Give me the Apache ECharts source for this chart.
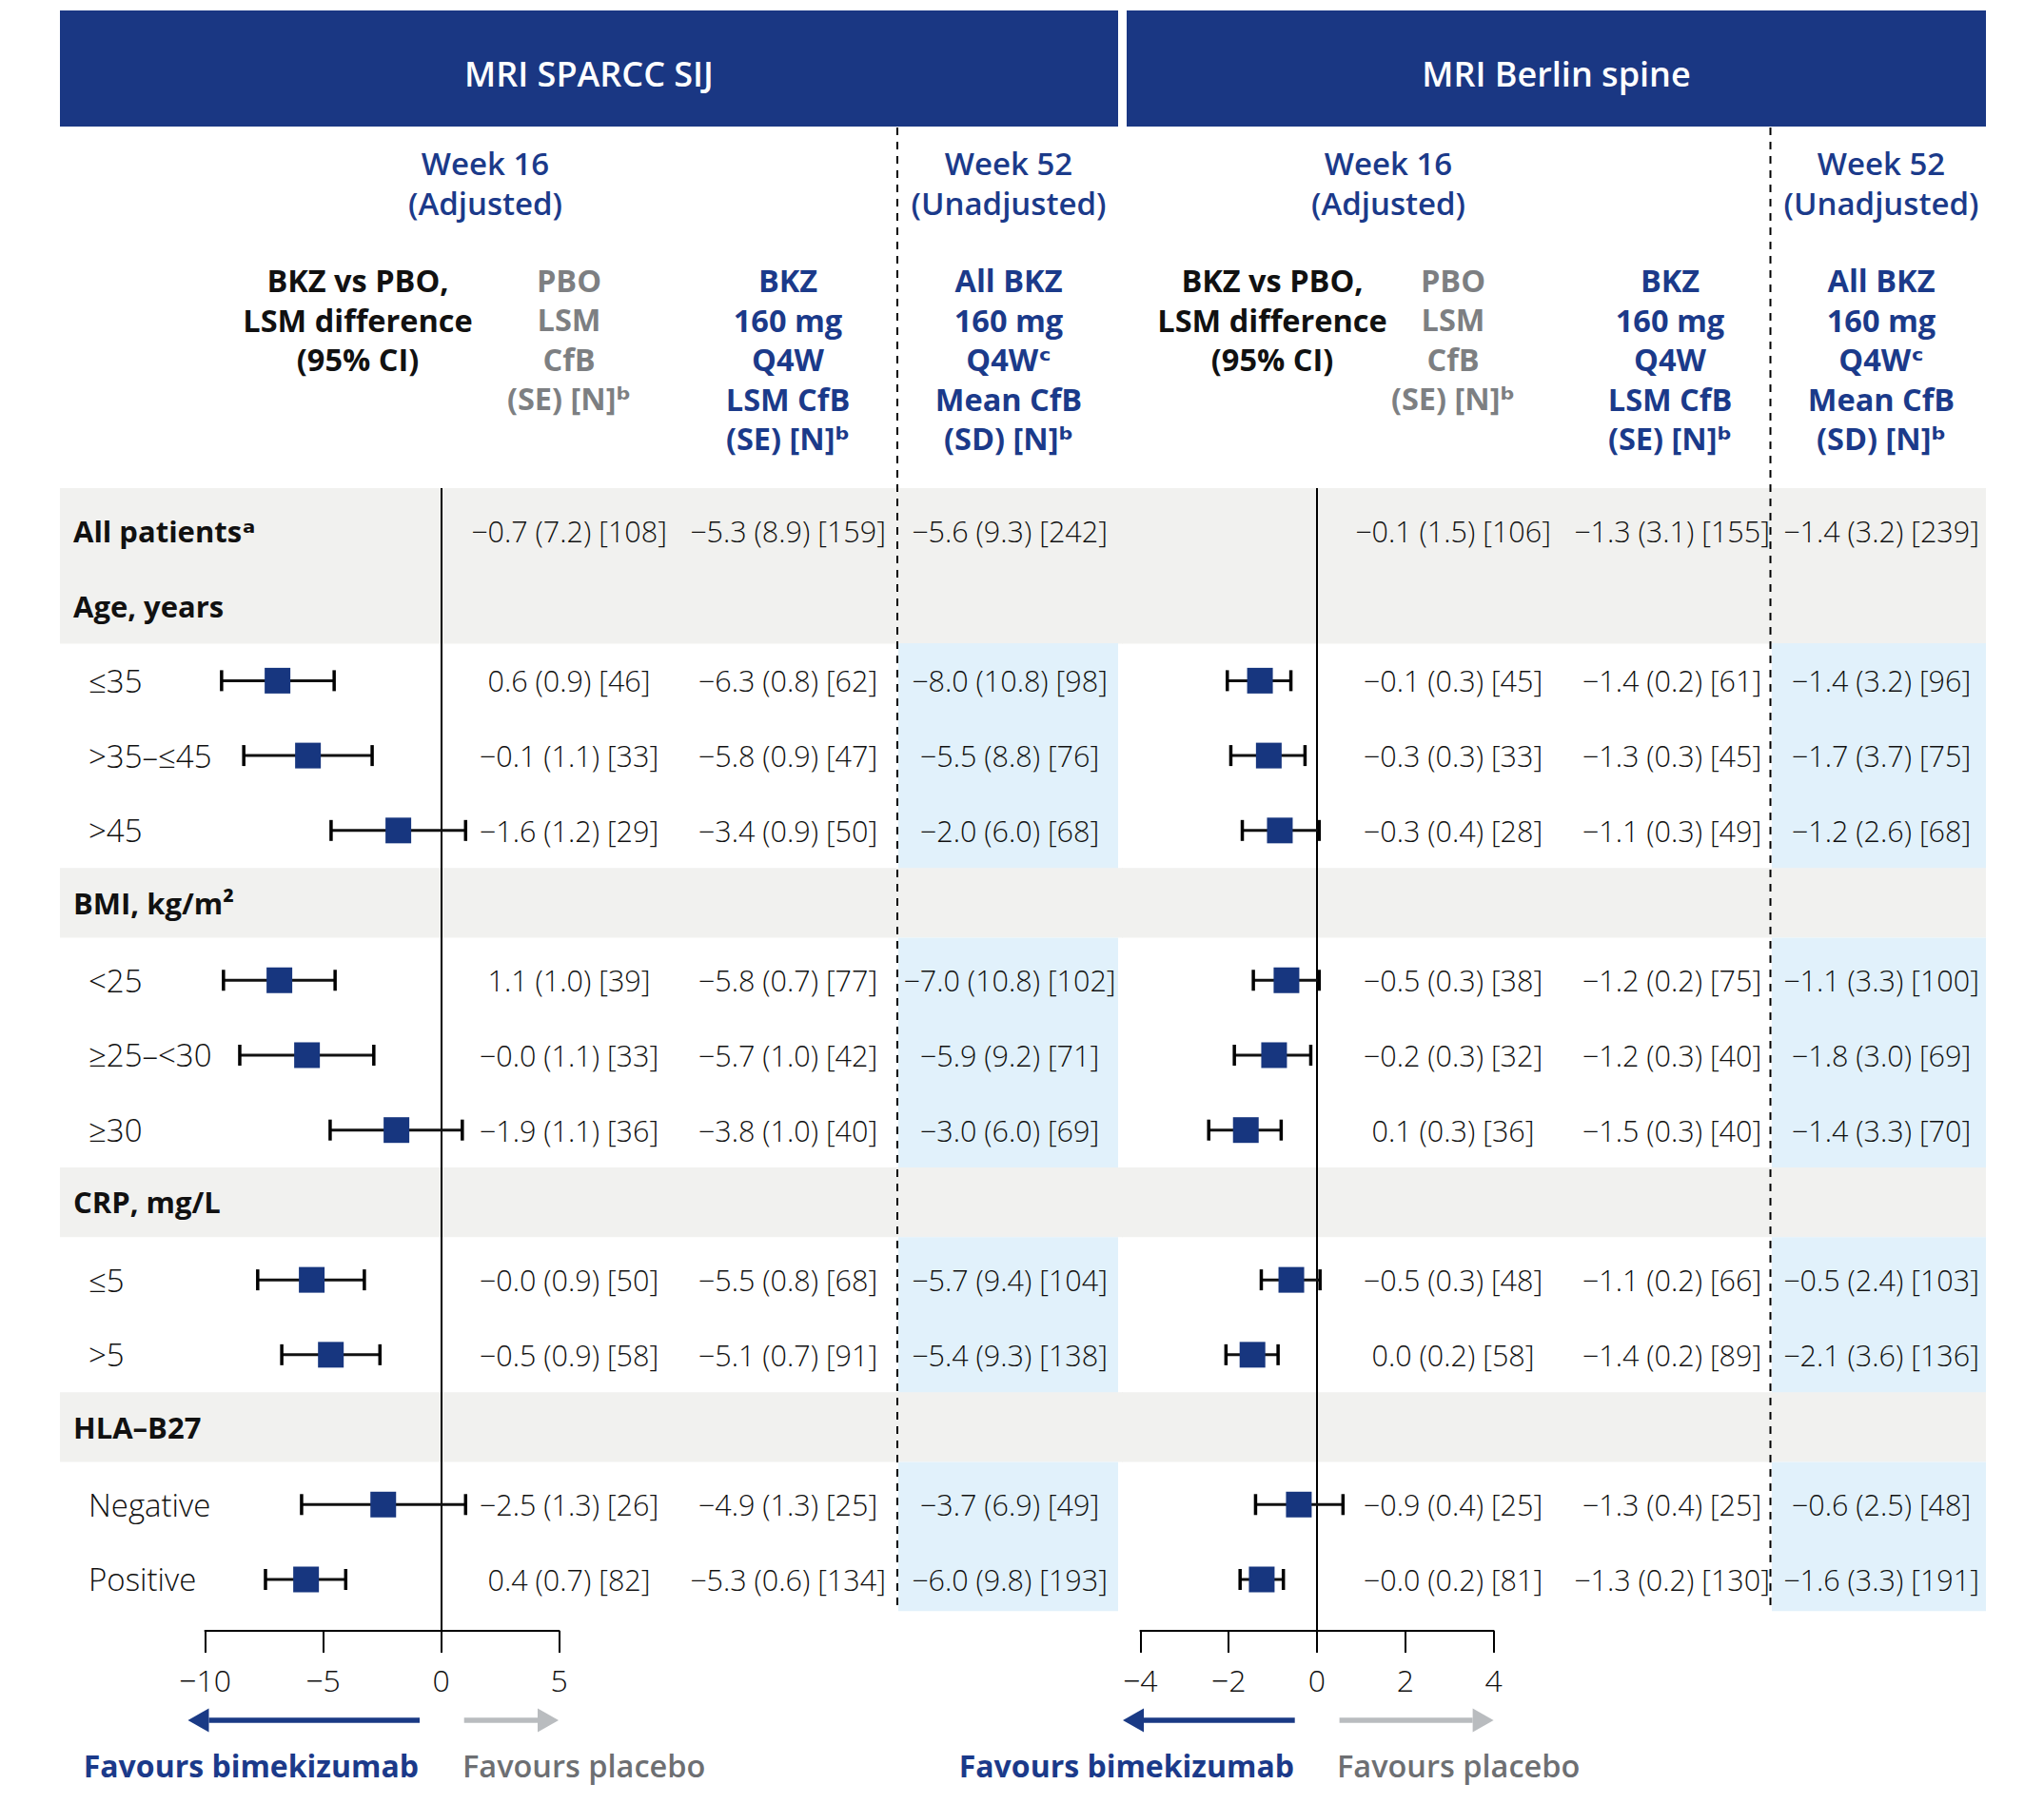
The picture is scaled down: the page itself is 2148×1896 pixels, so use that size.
<!DOCTYPE html>
<html><head><meta charset="utf-8">
<script src="https://cdn.jsdelivr.net/npm/echarts@6/dist/echarts.min.js"></script>
<style>html,body{margin:0;padding:0;background:#fff}#c{width:2148px;height:1896px}</style>
</head><body><div id="c"></div>
<script>
// ---------- data ----------
const rowLabels = ["All patients\u1D43", "Age, years", "\u226435", ">35\u2013\u226445", ">45",
  "BMI, kg/m\u00B2", "<25", "\u226525\u2013<30", "\u226530",
  "CRP, mg/L", "\u22645", ">5", "HLA\u2013B27", "Negative", "Positive"];
const rowIsHeader = [true, true, false, false, false, true, false, false, false, true, false, false, true, false, false];

// MRI SPARCC SIJ, week 16: BKZ vs PBO LSM difference (95% CI)
const sijEst  = [null, null, -6.93, -5.64, -1.81, null, -6.85, -5.68, -1.89, null, -5.48, -4.67, null, -2.45, -5.72];
const sijLow  = [null, null, -9.30, -8.36, -4.66, null, -9.22, -8.53, -4.70, null, -7.77, -6.75, null, -5.91, -7.44];
const sijHigh = [null, null, -4.53, -2.92,  1.04, null, -4.49, -2.85,  0.90, null, -3.25, -2.59, null,  1.04, -4.04];
const sijPbo = ["\u22120.7 (7.2) [108]", "", "0.6 (0.9) [46]", "\u22120.1 (1.1) [33]", "\u22121.6 (1.2) [29]", "",
  "1.1 (1.0) [39]", "\u22120.0 (1.1) [33]", "\u22121.9 (1.1) [36]", "", "\u22120.0 (0.9) [50]", "\u22120.5 (0.9) [58]", "",
  "\u22122.5 (1.3) [26]", "0.4 (0.7) [82]"];
const sijBkz = ["\u22125.3 (8.9) [159]", "", "\u22126.3 (0.8) [62]", "\u22125.8 (0.9) [47]", "\u22123.4 (0.9) [50]", "",
  "\u22125.8 (0.7) [77]", "\u22125.7 (1.0) [42]", "\u22123.8 (1.0) [40]", "", "\u22125.5 (0.8) [68]", "\u22125.1 (0.7) [91]", "",
  "\u22124.9 (1.3) [25]", "\u22125.3 (0.6) [134]"];
const sijAll = ["\u22125.6 (9.3) [242]", "", "\u22128.0 (10.8) [98]", "\u22125.5 (8.8) [76]", "\u22122.0 (6.0) [68]", "",
  "\u22127.0 (10.8) [102]", "\u22125.9 (9.2) [71]", "\u22123.0 (6.0) [69]", "", "\u22125.7 (9.4) [104]", "\u22125.4 (9.3) [138]", "",
  "\u22123.7 (6.9) [49]", "\u22126.0 (9.8) [193]"];

// MRI Berlin spine
const berEst  = [null, null, -1.29, -1.09, -0.84, null, -0.69, -0.97, -1.61, null, -0.58, -1.46, null, -0.41, -1.25];
const berLow  = [null, null, -2.03, -1.95, -1.69, null, -1.44, -1.87, -2.45, null, -1.26, -2.06, null, -1.39, -1.74];
const berHigh = [null, null, -0.59, -0.27,  0.05, null,  0.05, -0.14, -0.81, null,  0.07, -0.88, null,  0.59, -0.76];
const berPbo = ["\u22120.1 (1.5) [106]", "", "\u22120.1 (0.3) [45]", "\u22120.3 (0.3) [33]", "\u22120.3 (0.4) [28]", "",
  "\u22120.5 (0.3) [38]", "\u22120.2 (0.3) [32]", "0.1 (0.3) [36]", "", "\u22120.5 (0.3) [48]", "0.0 (0.2) [58]", "",
  "\u22120.9 (0.4) [25]", "\u22120.0 (0.2) [81]"];
const berBkz = ["\u22121.3 (3.1) [155]", "", "\u22121.4 (0.2) [61]", "\u22121.3 (0.3) [45]", "\u22121.1 (0.3) [49]", "",
  "\u22121.2 (0.2) [75]", "\u22121.2 (0.3) [40]", "\u22121.5 (0.3) [40]", "", "\u22121.1 (0.2) [66]", "\u22121.4 (0.2) [89]", "",
  "\u22121.3 (0.4) [25]", "\u22121.3 (0.2) [130]"];
const berAll = ["\u22121.4 (3.2) [239]", "", "\u22121.4 (3.2) [96]", "\u22121.7 (3.7) [75]", "\u22121.2 (2.6) [68]", "",
  "\u22121.1 (3.3) [100]", "\u22121.8 (3.0) [69]", "\u22121.4 (3.3) [70]", "", "\u22120.5 (2.4) [103]", "\u22122.1 (3.6) [136]", "",
  "\u22120.6 (2.5) [48]", "\u22121.6 (3.3) [191]"];

const sijTicks = [-10, -5, 0, 5];
const berTicks = [-4, -2, 0, 2, 4];

const panelTitles = ["MRI SPARCC SIJ", "MRI Berlin spine"];
const weekHeads = ["Week 16\n(Adjusted)", "Week 52\n(Unadjusted)"];
const colHeads = ["BKZ vs PBO,\nLSM difference\n(95% CI)", "PBO\nLSM\nCfB\n(SE) [N]\u1D47",
  "BKZ\n160 mg\nQ4W\nLSM CfB\n(SE) [N]\u1D47", "All BKZ\n160 mg\nQ4W\u1D9C\nMean CfB\n(SD) [N]\u1D47"];
const favourTexts = ["Favours bimekizumab", "Favours placebo"];

// ---------- style ----------
const FF = '"Open Sans", "DejaVu Sans", sans-serif';
const NAVY = '#1a3783', TXTBLUE = '#1b3a8a', GREYTXT = '#7d7f82', BLACK = '#111';
const GREYBAND = '#f1f1ef', BLUEBAND = '#e1f1fb';
const fmtTick = v => v < 0 ? '\u2212' + (-v) : String(v);
const HGAP = 5.5;   // header bands are a little shorter than a data row

const chart = echarts.init(document.getElementById('c'), null, {renderer: 'svg', width: 2148, height: 1896});

const rowsData = rowLabels.map((_, i) => [0, i]);
function forestData(est, lo, hi) {
  const out = [];
  est.forEach((e, i) => { if (e !== null) out.push([e, i, lo[i], hi[i]]); });
  return out;
}
const shortHeader = i => rowIsHeader[i] && i > 0 && !rowIsHeader[i - 1];

function bandRender(x0, x1, bx0, bx1) {
  return function (params, api) {
    const i = api.value(1);
    const c = api.coord([0, i]);
    const h = api.size([0, 1])[1];
    let top = c[1] - h / 2, hh = h + 0.6;
    if (rowIsHeader[i]) {
      if (i === 0) { top -= 5.6; hh += 5.6; }
      if (shortHeader(i)) hh = h - HGAP;
      return {type: 'rect', shape: {x: x0, y: top, width: x1 - x0, height: hh}, style: {fill: GREYBAND}};
    }
    if (i > 0 && shortHeader(i - 1)) { top -= HGAP; hh += HGAP; }
    if (i === rowLabels.length - 1) hh = h - 6;
    return {type: 'rect', shape: {x: bx0, y: top, width: bx1 - bx0, height: hh}, style: {fill: BLUEBAND}};
  };
}

function tableRender(cols, withLabels) {
  return function (params, api) {
    const i = api.value(1);
    let y = api.coord([0, i])[1];
    if (shortHeader(i)) y -= 3;
    const children = [];
    if (withLabels) {
      children.push({type: 'text', x: rowIsHeader[i] ? 77 : 93, y: y, style: {
        text: rowLabels[i], fill: BLACK, fontFamily: FF, fontSize: rowIsHeader[i] ? 31 : 33,
        fontWeight: rowIsHeader[i] ? 700 : 300, align: 'left', verticalAlign: 'middle'}});
    }
    cols.forEach(c => {
      const t = c.vals[i];
      if (t) children.push({type: 'text', x: c.x, y: y, style: {
        text: t, fill: BLACK, fontFamily: FF, fontSize: 30.5, fontWeight: 300, align: 'center', verticalAlign: 'middle'}});
    });
    return {type: 'group', children};
  };
}

function forestRender(params, api) {
  const y = api.value(1);
  const pE = api.coord([api.value(0), y]);
  const pL = api.coord([api.value(2), y]);
  const pH = api.coord([api.value(3), y]);
  const s = 27, cap = 11;
  return {type: 'group', children: [
    {type: 'line', shape: {x1: pL[0], y1: pL[1], x2: pH[0], y2: pH[1]}, style: {stroke: '#111', lineWidth: 3}},
    {type: 'line', shape: {x1: pL[0], y1: pL[1] - cap, x2: pL[0], y2: pL[1] + cap}, style: {stroke: '#000', lineWidth: 3.5}},
    {type: 'line', shape: {x1: pH[0], y1: pH[1] - cap, x2: pH[0], y2: pH[1] + cap}, style: {stroke: '#000', lineWidth: 3.5}},
    {type: 'rect', shape: {x: pE[0] - s / 2, y: pE[1] - s / 2, width: s, height: s}, style: {fill: '#17367f'}}
  ]};
}

function xAxisCfg(gi, ticks) {
  return {gridIndex: gi, type: 'value', min: ticks[0], max: ticks[ticks.length - 1], interval: ticks[1] - ticks[0],
    position: 'bottom',
    axisLine: {show: true, onZero: false, lineStyle: {color: '#000', width: 2}},
    axisTick: {show: true, inside: false, length: 23, lineStyle: {color: '#000', width: 2}},
    axisLabel: {margin: 35, fontSize: 32, color: BLACK, fontFamily: FF, fontWeight: 300, formatter: fmtTick},
    splitLine: {show: false}};
}
function yAxisCfg(gi) {
  return {gridIndex: gi, type: 'value', inverse: true, min: -0.571, max: 14.686, show: false,
    axisLine: {show: false}, splitLine: {show: false}};
}

// ---------- graphics (headers, arrows, dashed separators) ----------
const g = [];
function txt(x, y, text, size, weight, color, align, lh) {
  g.push({type: 'text', x, y, z: 20, silent: true, style: {text, fill: color, fontFamily: FF, fontSize: size,
    fontWeight: weight, align: align || 'center', verticalAlign: 'middle', lineHeight: lh || size}});
}
// header bars
g.push({type: 'rect', z: 5, shape: {x: 63, y: 11, width: 1112, height: 122}, style: {fill: NAVY}});
g.push({type: 'rect', z: 5, shape: {x: 1184, y: 11, width: 903, height: 122}, style: {fill: NAVY}});
txt(619, 77, panelTitles[0], 36, 600, '#fff');
txt(1635.5, 77, panelTitles[1], 36, 600, '#fff');

const panels = [
  {week16: 510, week52: 1060, lab: 376, pbo: 598, bkz: 828, all: 1060, dash: 943},
  {week16: 1459, week52: 1977, lab: 1337, pbo: 1527, bkz: 1755, all: 1977, dash: 1860.5}
];
panels.forEach(p => {
  txt(p.week16, 192.5, weekHeads[0], 33, 600, TXTBLUE, 'center', 41.6);
  txt(p.week52, 192.5, weekHeads[1], 33, 600, TXTBLUE, 'center', 41.6);
  txt(p.lab, 336, colHeads[0], 32.5, 700, BLACK, 'center', 41.5);
  txt(p.pbo, 356.5, colHeads[1], 32.5, 700, GREYTXT, 'center', 41.5);
  txt(p.bkz, 377.5, colHeads[2], 32.5, 700, TXTBLUE, 'center', 41.5);
  txt(p.all, 377.5, colHeads[3], 32.5, 700, TXTBLUE, 'center', 41.5);
  g.push({type: 'line', z: 15, silent: true, shape: {x1: p.dash, y1: 134, x2: p.dash, y2: 1693},
    style: {stroke: '#000', lineWidth: 2, lineDash: [8, 7]}});
});

// arrows + favours text
function arrow(xTail, xTip, y, color) {
  const dir = xTip < xTail ? -1 : 1;
  const base = xTip - dir * 22;
  g.push({type: 'line', z: 20, silent: true, shape: {x1: xTail, y1: y, x2: base, y2: y}, style: {stroke: color, lineWidth: 5.5}});
  g.push({type: 'polygon', z: 20, silent: true, shape: {points: [[xTip, y], [base, y - 12.5], [base, y + 12.5]]}, style: {fill: color}});
}
arrow(441, 197.5, 1808, '#1a3a85');
arrow(487.7, 587, 1808, '#b9bcbf');
arrow(1360.7, 1180, 1808, '#1a3a85');
arrow(1407.6, 1569.6, 1808, '#b9bcbf');
txt(440, 1855, favourTexts[0], 32, 700, TXTBLUE, 'right');
txt(486, 1855, favourTexts[1], 32.5, 600, '#6d6f72', 'left');
txt(1360, 1855, favourTexts[0], 32, 700, TXTBLUE, 'right');
txt(1405, 1855, favourTexts[1], 32.5, 600, '#6d6f72', 'left');

const option = {
  animation: false,
  backgroundColor: '#fff',
  grid: [
    {left: 215.5, width: 372, top: 513, height: 1201, outerBoundsMode: 'none', containLabel: false},
    {left: 1198.3, width: 371.3, top: 513, height: 1201, outerBoundsMode: 'none', containLabel: false}
  ],
  xAxis: [xAxisCfg(0, sijTicks), xAxisCfg(1, berTicks)],
  yAxis: [yAxisCfg(0), yAxisCfg(1)],
  graphic: {elements: g},
  series: [
    {type: 'custom', name: 'bandsL', xAxisIndex: 0, yAxisIndex: 0, z: 1, silent: true, clip: false,
      data: rowsData, encode: {x: 0, y: 1}, renderItem: bandRender(63, 1180, 944, 1175)},
    {type: 'custom', name: 'bandsR', xAxisIndex: 1, yAxisIndex: 1, z: 1, silent: true, clip: false,
      data: rowsData, encode: {x: 0, y: 1}, renderItem: bandRender(1179, 2087, 1862, 2087)},
    {type: 'custom', name: 'tableL', xAxisIndex: 0, yAxisIndex: 0, z: 3, silent: true, clip: false,
      data: rowsData, encode: {x: 0, y: 1},
      renderItem: tableRender([{x: 598, vals: sijPbo}, {x: 828, vals: sijBkz}, {x: 1061, vals: sijAll}], true)},
    {type: 'custom', name: 'tableR', xAxisIndex: 1, yAxisIndex: 1, z: 3, silent: true, clip: false,
      data: rowsData, encode: {x: 0, y: 1},
      renderItem: tableRender([{x: 1527, vals: berPbo}, {x: 1757, vals: berBkz}, {x: 1977, vals: berAll}], false)},
    {type: 'custom', name: 'forestL', xAxisIndex: 0, yAxisIndex: 0, z: 6, silent: true, clip: false,
      data: forestData(sijEst, sijLow, sijHigh), encode: {x: [0, 2, 3], y: 1}, renderItem: forestRender,
      markLine: {silent: true, symbol: ['none', 'none'], label: {show: false}, animation: false,
        lineStyle: {color: '#000', width: 2, type: 'solid'}, data: [{xAxis: 0}]}},
    {type: 'custom', name: 'forestR', xAxisIndex: 1, yAxisIndex: 1, z: 6, silent: true, clip: false,
      data: forestData(berEst, berLow, berHigh), encode: {x: [0, 2, 3], y: 1}, renderItem: forestRender,
      markLine: {silent: true, symbol: ['none', 'none'], label: {show: false}, animation: false,
        lineStyle: {color: '#000', width: 2, type: 'solid'}, data: [{xAxis: 0}]}}
  ]
};
chart.setOption(option);
</script>
</body></html>
